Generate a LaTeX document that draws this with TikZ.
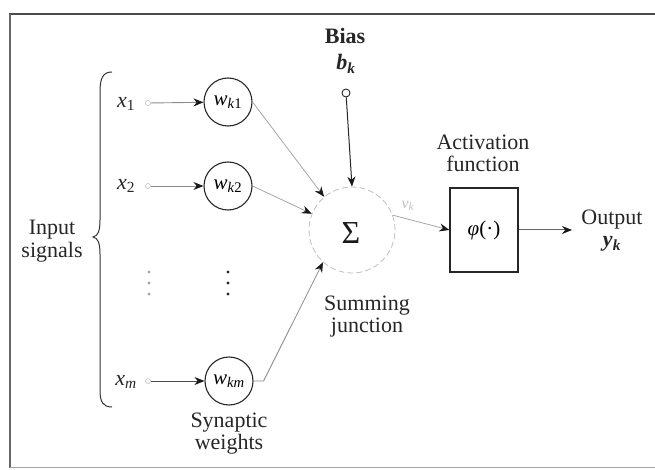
\documentclass[tikz,border=0pt]{standalone}
\usepackage{fontspec}
\setmainfont{Liberation Serif}
\newfontfamily\tnr{Liberation Serif}
\usetikzlibrary{arrows.meta}
\newcommand{\ii}[1]{\textit{#1}}
\newcommand{\sbs}[1]{\textsubscript{#1}}
\begin{document}
\begin{tikzpicture}[x=1pt,y=-1pt,
  txt/.style={font=\tnr\fontsize{22}{24}\selectfont, inner sep=0pt, align=center, text=black!85},
  wnode/.style={circle, draw=black!85, line width=1.1pt, minimum size=48pt, inner sep=0pt, font=\tnr\fontsize{21}{23}\selectfont},
  src/.style={circle, draw=black!25, line width=0.6pt, minimum size=5pt, inner sep=0pt},
  dotmark/.style={circle, fill=black!85, minimum size=3.2pt, inner sep=0pt},
  arr/.style={-{Stealth[length=10pt,width=8pt,color=black!90]}},
  inarrow/.style={arr, draw=black!45, line width=0.9pt},
  faintline/.style={arr, draw=black!35, line width=0.8pt},
  solidline/.style={arr, draw=black!85, line width=1pt},
  sumnode/.style={circle, draw=black!25, line width=0.8pt, dash pattern=on 6pt off 3pt, minimum size=86pt, inner sep=0pt},
  boxnode/.style={rectangle, draw=black!85, line width=1.2pt, minimum width=68pt, minimum height=84pt, inner sep=0pt, font=\tnr\fontsize{21}{23}\selectfont},
  framelineA/.style={draw=black!70, line width=2pt},
  framelineB/.style={draw=black!60, line width=1.2pt},
  framelineC/.style={draw=black!35, line width=1pt}
]
\useasboundingbox (0,0) rectangle (655,470);

% frame
\draw[framelineA] (9,14) -- (655,14);
\draw[framelineB] (10,14) -- (10,468);
\draw[framelineC] (10,467) -- (655,467);

% brace
\draw[black!80, line width=1pt] (112,72) .. controls (103,72) and (100,78) .. (100,92) -- (100,220)
  .. controls (100,231) and (98,236) .. (93,237) .. controls (98,238) and (100,243) .. (100,254)
  -- (100,390) .. controls (100,402) and (103,407) .. (112,407);
\node[txt] (insig) at (52,241) {Input\\[-1pt]signals};

% inputs
\node[txt] (x1) at (126,104) {\ii{x}\sbs{1}};
\node[txt] (x2) at (126,186) {\ii{x}\sbs{2}};
\node[txt] (xm) at (126,382) {\ii{x}\sbs{\ii{m}}};
\node[src] (c1) at (148,103) {};
\node[src] (c2) at (148,186) {};
\node[src] (cm) at (148,381) {};

% weights
\node[wnode] (w1) at (228,102) {\ii{w}\sbs{\ii{k}1}};
\node[wnode] (w2) at (228,186) {\ii{w}\sbs{\ii{k}2}};
\node[wnode] (wm) at (229,381) {\ii{w}\sbs{\ii{km}}};
\draw[inarrow] (c1) -- (w1);
\draw[inarrow] (c2) -- (w2);
\draw[inarrow, draw=black!70] (cm) -- (wm);

% vertical dots
\foreach \yy/\nm in {272/a,283/b,294/c}{
  \node[dotmark, fill=black!35] (dl\nm) at (149,\yy) {};
  \node[dotmark] (dr\nm) at (228,\yy) {};
}

\node[txt] (syn) at (229,434) {Synaptic\\[-2pt]weights};

% summing junction
\node[sumnode] (sum) at (352,230) {};
\node[font=\tnr\fontsize{32}{32}\selectfont, inner sep=0pt, text=black!90] (sigma) at (351,233) {Σ};
\node[txt] (sumlbl) at (367,317) {Summing\\[-2pt]junction};

\draw[faintline] (w1.east) -- (sum.130);
\draw[faintline] (w2.east) -- (sum.158);
\draw[faintline, draw=black!45] (wm.east) -- ++(10,0) -- (sum.228);

% bias
\node[txt] (bias) at (345,36) {\textbf{Bias}};
\node[txt] (bk) at (346,64) {\textbf{\ii{b}}\sbs{\textbf{\ii{k}}}};
\node[circle, draw=black!85, line width=0.9pt, minimum size=8pt, inner sep=0pt] (bc) at (346,93) {};
\draw[solidline] (bc) -- (sum.north);

% activation
\node[boxnode] (act) at (484,230) {\ii{φ}(·)};
\node[txt] (actlbl) at (483,153) {Activation\\[-2pt]function};
\node[font=\tnr\fontsize{16}{18}\selectfont, text=black!25, inner sep=0pt] (vk) at (408,206) {\ii{v}\sbs{\ii{k}}};
\draw[faintline] (sum.20) -- (act.west);

% output
\coordinate (out) at (572,230);
\draw[solidline, draw=black!60] (act.east) -- (out);
\node[txt] (outlbl) at (612,231) {Output\\[-2pt]\textbf{\ii{y}}\sbs{\textbf{\ii{k}}}};
\end{tikzpicture}
\end{document}
